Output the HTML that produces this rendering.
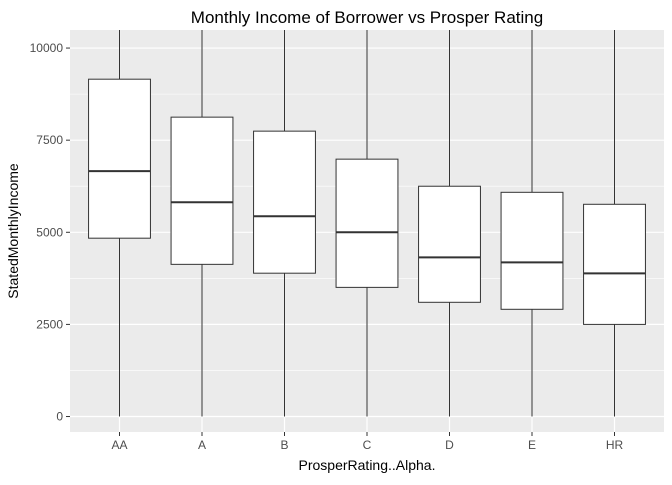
<!DOCTYPE html>
<html><head><meta charset="utf-8"><style>
body{margin:0;background:#fff;}
svg text{font-family:"Liberation Sans",sans-serif;}
</style></head><body>
<svg id="chart" width="672" height="480" xmlns="http://www.w3.org/2000/svg">
<rect width="672" height="480" fill="#fff"/>
<text x="367" y="23" text-anchor="middle" font-size="17" fill="#000">Monthly Income of Borrower vs Prosper Rating</text>
<rect x="70" y="30" width="594" height="402" fill="#ebebeb"/>
<g id="grid"></g>
<defs><clipPath id="clip"><rect x="70" y="30" width="594" height="402"/></clipPath></defs>
<g id="marks" clip-path="url(#clip)"></g>
<g id="axes"></g>
<text x="367" y="470" text-anchor="middle" font-size="14" fill="#000">ProsperRating..Alpha.</text>
<text transform="translate(18,231) rotate(-90)" text-anchor="middle" font-size="14" fill="#000">StatedMonthlyIncome</text>
</svg>
<script>
const categories=["AA","A","B","C","D","E","HR"];
const q1=[4840,4130,3890,3505,3100,2910,2500];
const medians=[6660,5815,5435,5000,4320,4185,3885];
const q3=[9155,8125,7745,6985,6250,6085,5760];
const whiskerLow=[0,0,0,0,0,0,0];
const whiskerHigh=[16000,16000,16000,16000,16000,16000,16000];
const yTicks=[0,2500,5000,7500,10000];

const NS="http://www.w3.org/2000/svg";
const px0=70,pw=594,py0=30,ph=402;
const yMin=-420,yMax=10490;
function y(v){return py0+ph-(v-yMin)/(yMax-yMin)*ph;}
const step=pw/(categories.length-1+1.2);
function x(i){return px0+step*(i+0.6);}
function mk(tag,attrs,parent){const e=document.createElementNS(NS,tag);for(const k in attrs)e.setAttribute(k,attrs[k]);parent.appendChild(e);return e;}
const grid=document.getElementById('grid'),marks=document.getElementById('marks'),axes=document.getElementById('axes');
for(let i=0;i<yTicks.length-1;i++){const m=(yTicks[i]+yTicks[i+1])/2;
 const l=mk('line',{x1:px0,x2:px0+pw,y1:y(m),y2:y(m),stroke:'#fff','stroke-width':0.6},grid);
 
 }
yTicks.forEach(t=>{
 const l=mk('line',{x1:px0,x2:px0+pw,y1:y(t),y2:y(t),stroke:'#fff','stroke-width':1.2},grid);
 
 
 mk('line',{x1:px0-4,x2:px0,y1:y(t),y2:y(t),stroke:'#333','stroke-width':1},axes);
 const tx=mk('text',{x:px0-7,y:y(t)+4,'text-anchor':'end','font-size':12,fill:'#4d4d4d'},axes);
 tx.textContent=t;
 
 
});
categories.forEach((c,i)=>{
 const cx=x(i);
 const g=mk('line',{x1:cx,x2:cx,y1:py0,y2:py0+ph,stroke:'#fff','stroke-width':1.2},grid);
 
 
 const w=mk('line',{x1:cx,x2:cx,y1:y(whiskerLow[i]),y2:y(whiskerHigh[i]),stroke:'#333','stroke-width':1},marks);
 
 
 const bw=step*0.75;
 const b=mk('rect',{x:cx-bw/2,y:y(q3[i]),width:bw,height:y(q1[i])-y(q3[i]),fill:'#fff',stroke:'#333','stroke-width':1},marks);
 
 
 const m=mk('line',{x1:cx-bw/2,x2:cx+bw/2,y1:y(medians[i]),y2:y(medians[i]),stroke:'#333','stroke-width':2},marks);
 
 
 mk('line',{x1:cx,x2:cx,y1:py0+ph,y2:py0+ph+4,stroke:'#333','stroke-width':1},axes);
 const t=mk('text',{x:cx,y:py0+ph+17,'text-anchor':'middle','font-size':12,fill:'#4d4d4d'},axes);
 t.textContent=c;
 
 
});
</script>
</body></html>
